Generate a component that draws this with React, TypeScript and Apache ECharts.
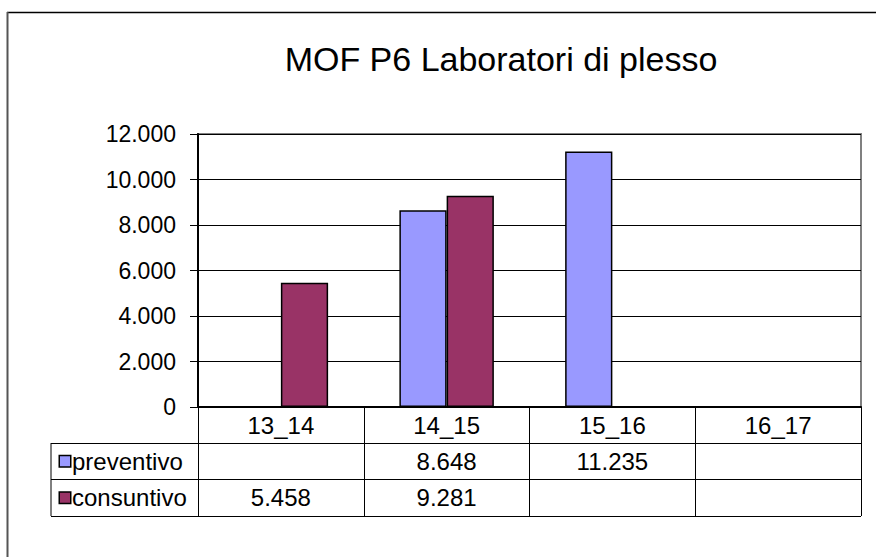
import React, { useEffect, useRef } from "react";
import * as echarts from "echarts";

const TITLE = "MOF P6 Laboratori di plesso";
const categories = ["13_14", "14_15", "15_16", "16_17"];
const seriesNames = ["preventivo", "consuntivo"];
const preventivo: (number | null)[] = [null, 8648, 11235, null];
const consuntivo: (number | null)[] = [5458, 9281, null, null];
const yTicks = { min: 0, max: 12000, interval: 2000 };

const COLORS = { preventivo: "#9999FF", consuntivo: "#993366" };
const FONT = "'Liberation Sans', Arial, sans-serif";

const fmt = (v: number) =>
  String(Math.round(v)).replace(/\B(?=(\d{3})+(?!\d))/g, ".");

export default function App() {
  const ref = useRef<HTMLDivElement>(null);
  useEffect(() => {
    if (!ref.current) return;
    const chart = echarts.init(ref.current, null, { renderer: "svg" });

    const tableData: any[] = [];
    [preventivo, consuntivo].forEach((arr, row) => {
      arr.forEach((v, ci) => {
        if (v != null) tableData.push([ci, row, v]);
      });
    });

    const option: any = {
      animation: false,
      backgroundColor: "#fff",
      textStyle: { fontFamily: FONT },
      graphic: [
        {
          type: "line",
          shape: { x1: 7, y1: 12.5, x2: 876, y2: 12.5 },
          style: { stroke: "#000", lineWidth: 1.5 },
        },
        {
          type: "line",
          shape: { x1: 7.5, y1: 12, x2: 7.5, y2: 557 },
          style: { stroke: "#555", lineWidth: 2 },
        },
        {
          type: "line",
          shape: { x1: 51, y1: 443, x2: 51, y2: 516 },
          style: { stroke: "#000", lineWidth: 1 },
        },
        {
          type: "text",
          x: 501,
          y: 59,
          style: {
            text: TITLE,
            fontSize: 34,
            fontFamily: FONT,
            fill: "#000",
            textAlign: "center",
            textVerticalAlign: "middle",
          },
        },
      ],
      grid: [
        {
          left: 198,
          right: 15,
          top: 134,
          bottom: 150,
          show: true,
          borderColor: "#808080",
          borderWidth: 2,
          backgroundColor: "#fff",
        },
        { left: 198, right: 15, top: 443, height: 73 },
      ],
      xAxis: [
        {
          type: "category",
          gridIndex: 0,
          data: categories,
          boundaryGap: true,
          axisLine: { show: true, lineStyle: { color: "#000", width: 2 } },
          axisTick: {
            show: true,
            inside: false,
            length: 109,
            lineStyle: { color: "#000", width: 1 },
          },
          axisLabel: {
            show: true,
            color: "#000",
            fontSize: 24,
            fontFamily: FONT,
            margin: 18,
            verticalAlign: "middle",
          },
          splitLine: { show: false },
        },
        {
          type: "category",
          gridIndex: 1,
          data: categories,
          show: false,
        },
      ],
      yAxis: [
        {
          type: "value",
          gridIndex: 0,
          min: yTicks.min,
          max: yTicks.max,
          interval: yTicks.interval,
          axisLine: { show: true, lineStyle: { color: "#000", width: 2 } },
          axisTick: {
            show: true,
            inside: false,
            length: 8,
            lineStyle: { color: "#000", width: 1 },
          },
          axisLabel: {
            color: "#000",
            fontSize: 23,
            fontFamily: FONT,
            margin: 22,
            formatter: (v: number) => fmt(v),
          },
          splitLine: { show: true, lineStyle: { color: "#000", width: 1 } },
        },
        {
          type: "category",
          gridIndex: 1,
          data: seriesNames,
          inverse: true,
          axisLine: { show: false },
          axisTick: {
            show: true,
            inside: false,
            length: 147,
            lineStyle: { color: "#000", width: 1 },
          },
          splitLine: { show: true, lineStyle: { color: "#000", width: 1 } },
          axisLabel: {
            show: true,
            align: "left",
            margin: 138,
            formatter: (v: string) =>
              `{${v === "preventivo" ? "p" : "c"}|}{t|${v}}`,
            rich: {
              p: {
                width: 10,
                height: 10,
                backgroundColor: COLORS.preventivo,
                borderColor: "#000",
                borderWidth: 1.5,
              },
              c: {
                width: 10,
                height: 10,
                backgroundColor: COLORS.consuntivo,
                borderColor: "#000",
                borderWidth: 1.5,
              },
              t: {
                fontSize: 24,
                fontFamily: FONT,
                color: "#000",
                padding: [0, 0, 0, 2],
              },
            },
          },
        },
      ],
      series: [
        {
          name: seriesNames[0],
          type: "bar",
          xAxisIndex: 0,
          yAxisIndex: 0,
          data: preventivo,
          barGap: "0%",
          barCategoryGap: "43%",
          itemStyle: {
            color: COLORS.preventivo,
            borderColor: "#000",
            borderWidth: 1.5,
          },
        },
        {
          name: seriesNames[1],
          type: "bar",
          xAxisIndex: 0,
          yAxisIndex: 0,
          data: consuntivo,
          barGap: "0%",
          barCategoryGap: "43%",
          itemStyle: {
            color: COLORS.consuntivo,
            borderColor: "#000",
            borderWidth: 1.5,
          },
        },
        {
          name: "table",
          type: "scatter",
          xAxisIndex: 1,
          yAxisIndex: 1,
          data: tableData,
          symbolSize: 1,
          itemStyle: { color: "#fff", opacity: 1 },
          label: {
            show: true,
            position: "inside",
            color: "#000",
            opacity: 1,
            textBorderWidth: 0,
            fontSize: 24,
            fontFamily: FONT,
            formatter: (p: any) => fmt(p.value[2]),
          },
        },
      ],
    };

    chart.setOption(option);
    return () => chart.dispose();
  }, []);

  return (
    <div
      ref={ref}
      style={{
        position: "fixed",
        left: 0,
        top: 0,
        width: 876,
        height: 557,
        background: "#fff",
      }}
    />
  );
}
